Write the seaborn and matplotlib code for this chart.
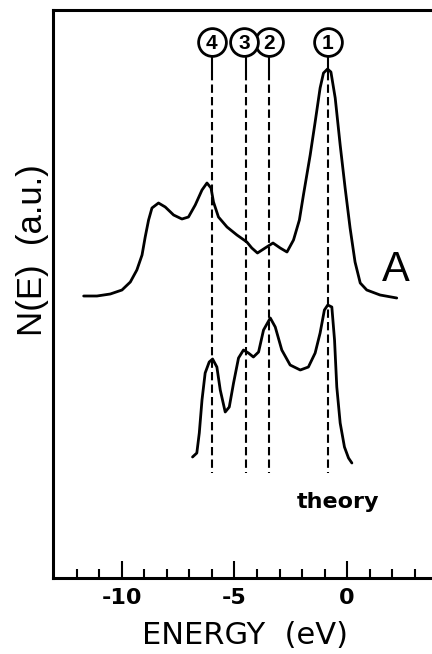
import numpy as np
import pandas as pd
import matplotlib
matplotlib.use('Agg')
import matplotlib.pyplot as plt
import seaborn as sns

# experimental curve "A" (energy in eV, intensity in a.u.)
energy_a = [-11.69, -11.10, -10.51, -9.99, -9.62, -9.33, -9.10, -8.96, -8.81, -8.66,
            -8.37, -8.07, -7.70, -7.33, -7.04, -6.74, -6.44, -6.22, -6.04, -5.93,
            -5.71, -5.33, -4.89, -4.45, -4.23, -3.98, -3.64, -3.29, -2.97, -2.67,
            -2.38, -2.12, -1.94, -1.64, -1.42, -1.20, -1.05, -0.87, -0.72, -0.53,
            -0.31, -0.09, 0.13, 0.35, 0.58, 0.87, 1.46, 2.20]
dos_a = [281, 281, 283, 287, 295, 307, 322, 340, 357, 369,
         374, 370, 362, 358, 360, 372, 387, 394, 389, 375,
         360, 350, 342, 335, 329, 324, 329, 334, 329, 325,
         337, 357, 382, 422, 455, 489, 504, 508, 505, 479,
         432, 389, 349, 315, 294, 287, 282, 279]

# theory curve
energy_t = [-6.86, -6.67, -6.56, -6.44, -6.30, -6.12, -5.97, -5.78, -5.63, -5.41,
            -5.23, -5.04, -4.82, -4.60, -4.38, -4.16, -3.93, -3.71, -3.41, -3.19,
            -2.90, -2.53, -2.08, -1.72, -1.42, -1.20, -1.01, -0.86, -0.68, -0.56,
            -0.46, -0.31, -0.12, 0.06, 0.21]
dos_t = [120, 124, 144, 177, 204, 215, 218, 210, 187, 165,
         170, 194, 219, 227, 224, 220, 225, 247, 259, 250,
         227, 212, 207, 210, 224, 244, 267, 272, 270, 237,
         190, 154, 130, 119, 114]

# numbered peak markers
peak_labels = ['1', '2', '3', '4']
peak_energy = [-0.86, -3.46, -4.49, -6.0]
circle_energy = [-0.86, -3.45, -4.57, -6.0]

xtick_major = [-10, -5, 0]
xtick_labels = ['-10', '-5', '0']
xtick_minor = list(range(-12, 4))

sns.set_style('white', rc={'text.color': 'black', 'xtick.color': 'black',
                           'axes.labelcolor': 'black', 'axes.edgecolor': 'black'})
plt.rcParams['font.family'] = ['Liberation Sans', 'DejaVu Sans']

fig = plt.figure(figsize=(4.32, 6.54), dpi=100)
ax = fig.add_axes([0.1227, 0.1162, 0.887, 0.8685])

da = pd.DataFrame({'E': energy_a, 'N': dos_a})
dt = pd.DataFrame({'E': energy_t, 'N': dos_t})
for d in (da, dt):
    sns.lineplot(data=d, x='E', y='N', color='black', lw=2.0, ax=ax, sort=False,
                 solid_joinstyle='round', solid_capstyle='round')

# dashed guide lines with short solid stubs under the circles
for e in peak_energy:
    ax.plot([e, e], [522, 505], color='black', lw=1.5)
    ax.plot([e, e], [505, 104], color='black', lw=1.5, linestyle=(0, (4, 2)))

ax.plot(circle_energy, [535] * 4, 'o', ms=20, mfc='white', mec='black', mew=2.0,
        linestyle='none', zorder=5)
for lab, ce in zip(peak_labels, circle_energy):
    ax.text(ce, 534, lab, ha='center', va='center', fontsize=15,
            fontweight='bold', zorder=6)

ax.text(1.55, 307, 'A', fontsize=30, ha='left', va='center')
ax.text(-0.4, 75, 'theory', fontsize=16, fontweight='bold', ha='center',
        va='center', family='DejaVu Sans')

ax.set_xlim(-13.05, 3.95)
ax.set_ylim(-1, 567)

ax.set_xticks(xtick_major)
ax.set_xticklabels(xtick_labels, fontsize=16, fontweight='bold', family='DejaVu Sans')
ax.set_xticks(xtick_minor, minor=True)
ax.set_yticks([])
ax.tick_params(axis='x', which='major', direction='in', length=12, width=1.5,
               pad=7, bottom=True)
ax.tick_params(axis='x', which='minor', direction='in', length=6.5, width=1.5,
               bottom=True)

for side in ['left', 'top', 'bottom']:
    ax.spines[side].set_visible(True)
    ax.spines[side].set_linewidth(2.2)
ax.spines['right'].set_visible(False)

ax.set_xlabel('ENERGY  (eV)', fontsize=22, family='DejaVu Sans')
ax.xaxis.set_label_coords(0.50, -0.075)
ax.set_ylabel('N(E)  (a.u.)', fontsize=25)
ax.yaxis.set_label_coords(-0.010, 0.577)

fig.savefig('out.png', dpi=100)
